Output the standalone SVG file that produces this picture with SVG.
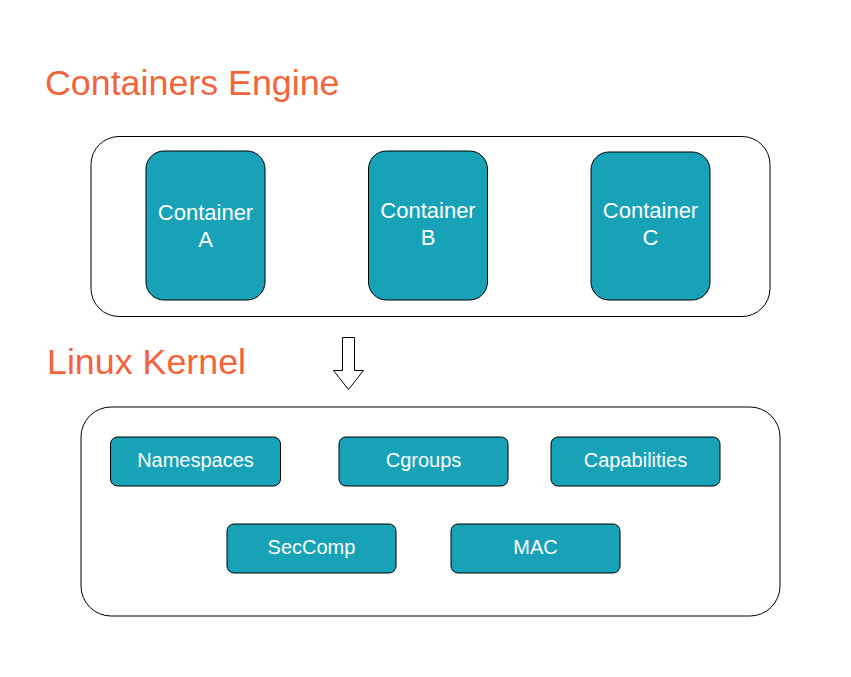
<svg xmlns="http://www.w3.org/2000/svg" width="851" height="677" viewBox="0 0 851 677">
<style>
.title{font-family:"Liberation Sans",Arial,sans-serif;font-size:35.8px;fill:#f5633b}
.frame{fill:#ffffff;stroke:#000000;stroke-width:1}
.box{fill:#17a2b8;stroke:#000000;stroke-width:1}
.lbl{font-family:"Liberation Sans",Arial,sans-serif;font-size:22px;fill:#ffffff;text-anchor:middle}
.lbl2{font-family:"Liberation Sans",Arial,sans-serif;font-size:20px;fill:#ffffff;text-anchor:middle}
</style>
<rect width="851" height="677" fill="#ffffff"/>
<text class="title" x="45" y="95">Containers Engine</text>
<text class="title" x="47" y="374">Linux Kernel</text>
<g id="engine"><rect class="frame" x="91" y="136.5" width="679" height="180" rx="28"/></g>
<g id="containerA"><rect class="box" x="146" y="151" width="119" height="149" rx="18"/><text class="lbl" x="205.5" y="220">Container</text><text class="lbl" x="205.5" y="247">A</text></g>
<g id="containerB"><rect class="box" x="368.5" y="151" width="119" height="149" rx="18"/><text class="lbl" x="428" y="218">Container</text><text class="lbl" x="428" y="245">B</text></g>
<g id="containerC"><rect class="box" x="591" y="152" width="119" height="148" rx="18"/><text class="lbl" x="650.5" y="218">Container</text><text class="lbl" x="650.5" y="245">C</text></g>
<g id="connectors"><path d="M342.5 337.5 H354.5 V370.5 H363.5 L348.5 389.5 L333.5 370.5 H342.5 Z" fill="#ffffff" stroke="#000000" stroke-width="1"/></g>
<g id="kernel"><rect class="frame" x="81" y="407" width="699" height="209" rx="30"/></g>
<g id="namespaces"><rect class="box" x="110.5" y="437" width="170" height="49" rx="7"/><text class="lbl2" x="195.5" y="467">Namespaces</text></g>
<g id="cgroups"><rect class="box" x="339" y="437" width="169" height="49" rx="7"/><text class="lbl2" x="423.5" y="467">Cgroups</text></g>
<g id="capabilities"><rect class="box" x="551" y="437" width="169" height="49" rx="7"/><text class="lbl2" x="635.5" y="467">Capabilities</text></g>
<g id="seccomp"><rect class="box" x="227" y="524" width="169" height="49" rx="7"/><text class="lbl2" x="311.5" y="554">SecComp</text></g>
<g id="mac"><rect class="box" x="451" y="524" width="169" height="49" rx="7"/><text class="lbl2" x="535.5" y="554">MAC</text></g>
</svg>
